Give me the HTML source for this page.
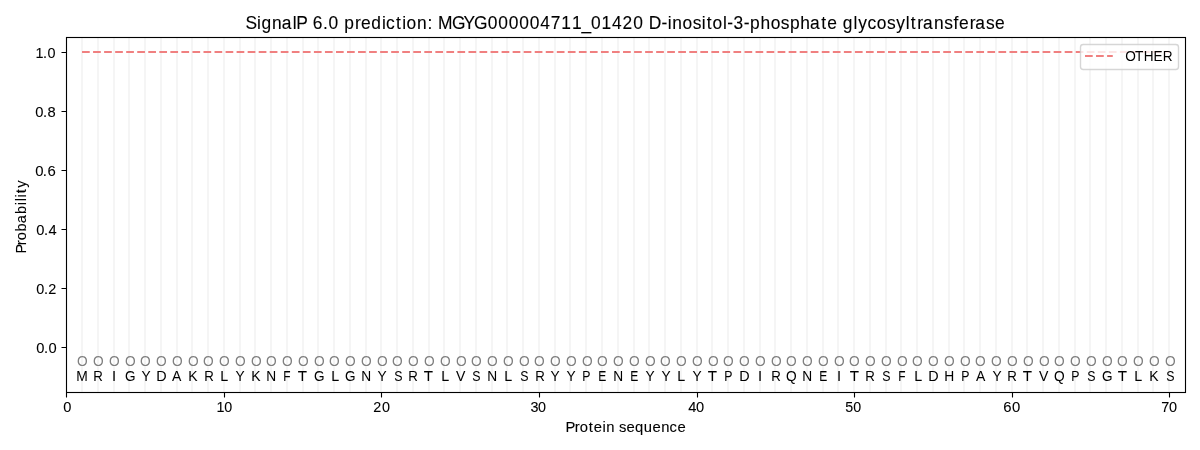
<!DOCTYPE html>
<html><head><meta charset="utf-8"><title>SignalP 6.0 prediction</title>
<style>html,body{margin:0;padding:0;background:#fff;width:1200px;height:450px;overflow:hidden}svg{display:block;will-change:transform}text{font-family:"Liberation Sans",sans-serif}</style></head>
<body><svg width="1200" height="450" viewBox="0 0 1200 450">
<rect width="1200" height="450" fill="#fff"/>
<path d="M82 37.33V391.72M98 37.33V391.72M114 37.33V391.72M129 37.33V391.72M145 37.33V391.72M161 37.33V391.72M177 37.33V391.72M192 37.33V391.72M208 37.33V391.72M224 37.33V391.72M240 37.33V391.72M255 37.33V391.72M271 37.33V391.72M287 37.33V391.72M303 37.33V391.72M318 37.33V391.72M334 37.33V391.72M350 37.33V391.72M366 37.33V391.72M381 37.33V391.72M397 37.33V391.72M413 37.33V391.72M429 37.33V391.72M444 37.33V391.72M460 37.33V391.72M476 37.33V391.72M492 37.33V391.72M507 37.33V391.72M523 37.33V391.72M539 37.33V391.72M555 37.33V391.72M570 37.33V391.72M586 37.33V391.72M602 37.33V391.72M618 37.33V391.72M634 37.33V391.72M649 37.33V391.72M665 37.33V391.72M681 37.33V391.72M697 37.33V391.72M712 37.33V391.72M728 37.33V391.72M744 37.33V391.72M760 37.33V391.72M775 37.33V391.72M791 37.33V391.72M807 37.33V391.72M823 37.33V391.72M838 37.33V391.72M854 37.33V391.72M870 37.33V391.72M886 37.33V391.72M901 37.33V391.72M917 37.33V391.72M933 37.33V391.72M949 37.33V391.72M964 37.33V391.72M980 37.33V391.72M996 37.33V391.72M1012 37.33V391.72M1027 37.33V391.72M1043 37.33V391.72M1059 37.33V391.72M1075 37.33V391.72M1090 37.33V391.72M1106 37.33V391.72M1122 37.33V391.72M1138 37.33V391.72M1153 37.33V391.72M1169 37.33V391.72" stroke="#f5f5f5" stroke-width="2.083" fill="none"/>
<path d="M82.03 52H1169.24" stroke="#f08080" stroke-width="2.083" stroke-dasharray="7.708 3.333" fill="none"/>
<text x="0.21" transform="translate(76.03,381.00) scale(0.9410,1)" font-size="14.72" fill="#000000" stroke="#000000" stroke-width="0.030">M</text>
<text x="0.54" transform="translate(76.60,366.00) scale(0.9329,1)" font-size="14.72" fill="#808080">O</text>
<text x="0.32" transform="translate(92.98,381.00) scale(0.9026,1)" font-size="14.72" fill="#000000" stroke="#000000" stroke-width="0.030">R</text>
<text x="0.80" transform="translate(92.35,366.00) scale(0.9329,1)" font-size="14.72" fill="#808080">O</text>
<text x="0.44" transform="translate(111.55,381.00) scale(0.9981,1)" font-size="14.72" fill="#000000" stroke="#000000" stroke-width="0.030">I</text>
<text x="1.06" transform="translate(108.11,366.00) scale(0.9329,1)" font-size="14.72" fill="#808080">O</text>
<text x="1.22" transform="translate(123.93,381.00) scale(0.9204,1)" font-size="14.72" fill="#000000" stroke="#000000" stroke-width="0.030">G</text>
<text x="1.32" transform="translate(123.87,366.00) scale(0.9329,1)" font-size="14.72" fill="#808080">O</text>
<text x="0.77" transform="translate(140.87,381.00) scale(0.9312,1)" font-size="14.72" fill="#000000" stroke="#000000" stroke-width="0.030">Y</text>
<text x="0.51" transform="translate(139.62,366.00) scale(0.9329,1)" font-size="14.72" fill="#808080">O</text>
<text x="0.77" transform="translate(155.44,381.00) scale(0.9764,1)" font-size="14.72" fill="#000000" stroke="#000000" stroke-width="0.030">D</text>
<text x="0.77" transform="translate(155.38,366.00) scale(0.9329,1)" font-size="14.72" fill="#808080">O</text>
<text x="0.26" transform="translate(171.82,381.00) scale(0.9507,1)" font-size="14.72" fill="#000000" stroke="#000000" stroke-width="0.030">A</text>
<text x="1.03" transform="translate(171.14,366.00) scale(0.9329,1)" font-size="14.72" fill="#808080">O</text>
<text x="0.38" transform="translate(187.83,381.00) scale(0.9518,1)" font-size="14.72" fill="#000000" stroke="#000000" stroke-width="0.030">K</text>
<text x="1.29" transform="translate(186.89,366.00) scale(0.9329,1)" font-size="14.72" fill="#808080">O</text>
<text x="1.10" transform="translate(203.28,381.00) scale(0.9026,1)" font-size="14.72" fill="#000000" stroke="#000000" stroke-width="0.030">R</text>
<text x="0.48" transform="translate(202.65,366.00) scale(0.9329,1)" font-size="14.72" fill="#808080">O</text>
<text x="0.21" transform="translate(219.97,381.00) scale(0.9709,1)" font-size="14.72" fill="#000000" stroke="#000000" stroke-width="0.030">L</text>
<text x="0.74" transform="translate(218.41,366.00) scale(0.9329,1)" font-size="14.72" fill="#808080">O</text>
<text x="0.19" transform="translate(235.41,381.00) scale(0.9312,1)" font-size="14.72" fill="#000000" stroke="#000000" stroke-width="0.030">Y</text>
<text x="1.01" transform="translate(234.16,366.00) scale(0.9329,1)" font-size="14.72" fill="#808080">O</text>
<text x="0.35" transform="translate(250.86,381.00) scale(0.9518,1)" font-size="14.72" fill="#000000" stroke="#000000" stroke-width="0.030">K</text>
<text x="1.27" transform="translate(249.92,366.00) scale(0.9329,1)" font-size="14.72" fill="#808080">O</text>
<text x="0.33" transform="translate(265.93,381.00) scale(0.9322,1)" font-size="14.72" fill="#000000" stroke="#000000" stroke-width="0.030">N</text>
<text x="0.45" transform="translate(265.68,366.00) scale(0.9329,1)" font-size="14.72" fill="#808080">O</text>
<text x="0.62" transform="translate(282.87,381.00) scale(0.8089,1)" font-size="14.72" fill="#000000" stroke="#000000" stroke-width="0.030">F</text>
<text x="0.72" transform="translate(281.43,366.00) scale(0.9329,1)" font-size="14.72" fill="#808080">O</text>
<text x="-0.73" transform="translate(298.38,381.00) scale(1.0293,1)" font-size="14.72" fill="#000000" stroke="#000000" stroke-width="0.030">T</text>
<text x="0.98" transform="translate(297.19,366.00) scale(0.9329,1)" font-size="14.72" fill="#808080">O</text>
<text x="1.13" transform="translate(313.01,381.00) scale(0.9204,1)" font-size="14.72" fill="#000000" stroke="#000000" stroke-width="0.030">G</text>
<text x="1.24" transform="translate(312.95,366.00) scale(0.9329,1)" font-size="14.72" fill="#808080">O</text>
<text x="0.93" transform="translate(330.27,381.00) scale(0.9709,1)" font-size="14.72" fill="#000000" stroke="#000000" stroke-width="0.030">L</text>
<text x="0.43" transform="translate(328.70,366.00) scale(0.9329,1)" font-size="14.72" fill="#808080">O</text>
<text x="0.58" transform="translate(344.52,381.00) scale(0.9204,1)" font-size="14.72" fill="#000000" stroke="#000000" stroke-width="0.030">G</text>
<text x="0.69" transform="translate(344.46,366.00) scale(0.9329,1)" font-size="14.72" fill="#808080">O</text>
<text x="0.82" transform="translate(360.47,381.00) scale(0.9322,1)" font-size="14.72" fill="#000000" stroke="#000000" stroke-width="0.030">N</text>
<text x="0.95" transform="translate(360.22,366.00) scale(0.9329,1)" font-size="14.72" fill="#808080">O</text>
<text x="0.39" transform="translate(377.22,381.00) scale(0.9312,1)" font-size="14.72" fill="#000000" stroke="#000000" stroke-width="0.030">Y</text>
<text x="1.21" transform="translate(375.97,366.00) scale(0.9329,1)" font-size="14.72" fill="#808080">O</text>
<text x="1.81" transform="translate(392.79,381.00) scale(0.8413,1)" font-size="14.72" fill="#000000" stroke="#000000" stroke-width="0.030">S</text>
<text x="0.40" transform="translate(391.73,366.00) scale(0.9329,1)" font-size="14.72" fill="#808080">O</text>
<text x="0.17" transform="translate(408.11,381.00) scale(0.9026,1)" font-size="14.72" fill="#000000" stroke="#000000" stroke-width="0.030">R</text>
<text x="0.66" transform="translate(407.49,366.00) scale(0.9329,1)" font-size="14.72" fill="#808080">O</text>
<text x="-0.78" transform="translate(424.43,381.00) scale(1.0293,1)" font-size="14.72" fill="#000000" stroke="#000000" stroke-width="0.030">T</text>
<text x="0.92" transform="translate(423.24,366.00) scale(0.9329,1)" font-size="14.72" fill="#808080">O</text>
<text x="0.63" transform="translate(440.56,381.00) scale(0.9709,1)" font-size="14.72" fill="#000000" stroke="#000000" stroke-width="0.030">L</text>
<text x="1.18" transform="translate(439.00,366.00) scale(0.9329,1)" font-size="14.72" fill="#808080">O</text>
<text x="0.62" transform="translate(455.44,381.00) scale(0.9577,1)" font-size="14.72" fill="#000000" stroke="#000000" stroke-width="0.030">V</text>
<text x="1.44" transform="translate(454.76,366.00) scale(0.9329,1)" font-size="14.72" fill="#808080">O</text>
<text x="0.87" transform="translate(471.58,381.00) scale(0.8413,1)" font-size="14.72" fill="#000000" stroke="#000000" stroke-width="0.030">S</text>
<text x="0.63" transform="translate(470.51,366.00) scale(0.9329,1)" font-size="14.72" fill="#808080">O</text>
<text x="0.76" transform="translate(486.52,381.00) scale(0.9322,1)" font-size="14.72" fill="#000000" stroke="#000000" stroke-width="0.030">N</text>
<text x="0.89" transform="translate(486.27,366.00) scale(0.9329,1)" font-size="14.72" fill="#808080">O</text>
<text x="0.60" transform="translate(503.59,381.00) scale(0.9709,1)" font-size="14.72" fill="#000000" stroke="#000000" stroke-width="0.030">L</text>
<text x="1.15" transform="translate(502.03,366.00) scale(0.9329,1)" font-size="14.72" fill="#808080">O</text>
<text x="1.74" transform="translate(518.85,381.00) scale(0.8413,1)" font-size="14.72" fill="#000000" stroke="#000000" stroke-width="0.030">S</text>
<text x="1.41" transform="translate(517.78,366.00) scale(0.9329,1)" font-size="14.72" fill="#808080">O</text>
<text x="1.22" transform="translate(534.16,381.00) scale(0.9026,1)" font-size="14.72" fill="#000000" stroke="#000000" stroke-width="0.030">R</text>
<text x="0.60" transform="translate(533.54,366.00) scale(0.9329,1)" font-size="14.72" fill="#808080">O</text>
<text x="0.04" transform="translate(550.55,381.00) scale(0.9312,1)" font-size="14.72" fill="#000000" stroke="#000000" stroke-width="0.030">Y</text>
<text x="0.86" transform="translate(549.30,366.00) scale(0.9329,1)" font-size="14.72" fill="#808080">O</text>
<text x="0.30" transform="translate(566.30,381.00) scale(0.9312,1)" font-size="14.72" fill="#000000" stroke="#000000" stroke-width="0.030">Y</text>
<text x="1.12" transform="translate(565.05,366.00) scale(0.9329,1)" font-size="14.72" fill="#808080">O</text>
<text x="0.35" transform="translate(582.06,381.00) scale(0.8346,1)" font-size="14.72" fill="#000000" stroke="#000000" stroke-width="0.030">P</text>
<text x="1.38" transform="translate(580.81,366.00) scale(0.9329,1)" font-size="14.72" fill="#808080">O</text>
<text x="0.89" transform="translate(597.63,381.00) scale(0.8179,1)" font-size="14.72" fill="#000000" stroke="#000000" stroke-width="0.030">E</text>
<text x="0.57" transform="translate(596.57,366.00) scale(0.9329,1)" font-size="14.72" fill="#808080">O</text>
<text x="0.71" transform="translate(612.57,381.00) scale(0.9322,1)" font-size="14.72" fill="#000000" stroke="#000000" stroke-width="0.030">N</text>
<text x="0.83" transform="translate(612.32,366.00) scale(0.9329,1)" font-size="14.72" fill="#808080">O</text>
<text x="1.49" transform="translate(629.14,381.00) scale(0.8179,1)" font-size="14.72" fill="#000000" stroke="#000000" stroke-width="0.030">E</text>
<text x="1.09" transform="translate(628.08,366.00) scale(0.9329,1)" font-size="14.72" fill="#808080">O</text>
<text x="0.54" transform="translate(645.09,381.00) scale(0.9312,1)" font-size="14.72" fill="#000000" stroke="#000000" stroke-width="0.030">Y</text>
<text x="1.36" transform="translate(643.84,366.00) scale(0.9329,1)" font-size="14.72" fill="#808080">O</text>
<text x="0.80" transform="translate(660.84,381.00) scale(0.9312,1)" font-size="14.72" fill="#000000" stroke="#000000" stroke-width="0.030">Y</text>
<text x="0.54" transform="translate(659.59,366.00) scale(0.9329,1)" font-size="14.72" fill="#808080">O</text>
<text x="0.27" transform="translate(676.91,381.00) scale(0.9709,1)" font-size="14.72" fill="#000000" stroke="#000000" stroke-width="0.030">L</text>
<text x="0.81" transform="translate(675.35,366.00) scale(0.9329,1)" font-size="14.72" fill="#808080">O</text>
<text x="0.25" transform="translate(692.36,381.00) scale(0.9312,1)" font-size="14.72" fill="#000000" stroke="#000000" stroke-width="0.030">Y</text>
<text x="1.07" transform="translate(691.11,366.00) scale(0.9329,1)" font-size="14.72" fill="#808080">O</text>
<text x="-0.41" transform="translate(708.05,381.00) scale(1.0293,1)" font-size="14.72" fill="#000000" stroke="#000000" stroke-width="0.030">T</text>
<text x="1.33" transform="translate(706.86,366.00) scale(0.9329,1)" font-size="14.72" fill="#808080">O</text>
<text x="0.57" transform="translate(723.87,381.00) scale(0.8346,1)" font-size="14.72" fill="#000000" stroke="#000000" stroke-width="0.030">P</text>
<text x="0.52" transform="translate(722.62,366.00) scale(0.9329,1)" font-size="14.72" fill="#808080">O</text>
<text x="0.77" transform="translate(738.44,381.00) scale(0.9764,1)" font-size="14.72" fill="#000000" stroke="#000000" stroke-width="0.030">D</text>
<text x="0.78" transform="translate(738.38,366.00) scale(0.9329,1)" font-size="14.72" fill="#808080">O</text>
<text x="0.42" transform="translate(757.57,381.00) scale(0.9981,1)" font-size="14.72" fill="#000000" stroke="#000000" stroke-width="0.030">I</text>
<text x="1.04" transform="translate(754.13,366.00) scale(0.9329,1)" font-size="14.72" fill="#808080">O</text>
<text x="0.83" transform="translate(770.51,381.00) scale(0.9026,1)" font-size="14.72" fill="#000000" stroke="#000000" stroke-width="0.030">R</text>
<text x="1.30" transform="translate(769.89,366.00) scale(0.9329,1)" font-size="14.72" fill="#808080">O</text>
<text x="0.49" transform="translate(785.65,381.00) scale(0.9329,1)" font-size="14.72" fill="#000000" stroke="#000000" stroke-width="0.030">Q</text>
<text x="0.49" transform="translate(785.65,366.00) scale(0.9329,1)" font-size="14.72" fill="#808080">O</text>
<text x="0.62" transform="translate(801.65,381.00) scale(0.9322,1)" font-size="14.72" fill="#000000" stroke="#000000" stroke-width="0.030">N</text>
<text x="0.75" transform="translate(801.40,366.00) scale(0.9329,1)" font-size="14.72" fill="#808080">O</text>
<text x="1.39" transform="translate(818.22,381.00) scale(0.8179,1)" font-size="14.72" fill="#000000" stroke="#000000" stroke-width="0.030">E</text>
<text x="1.01" transform="translate(817.16,366.00) scale(0.9329,1)" font-size="14.72" fill="#808080">O</text>
<text x="0.64" transform="translate(836.35,381.00) scale(0.9981,1)" font-size="14.72" fill="#000000" stroke="#000000" stroke-width="0.030">I</text>
<text x="1.27" transform="translate(832.92,366.00) scale(0.9329,1)" font-size="14.72" fill="#808080">O</text>
<text x="-0.23" transform="translate(849.86,381.00) scale(1.0293,1)" font-size="14.72" fill="#000000" stroke="#000000" stroke-width="0.030">T</text>
<text x="0.46" transform="translate(848.67,366.00) scale(0.9329,1)" font-size="14.72" fill="#808080">O</text>
<text x="0.23" transform="translate(865.05,381.00) scale(0.9026,1)" font-size="14.72" fill="#000000" stroke="#000000" stroke-width="0.030">R</text>
<text x="0.72" transform="translate(864.43,366.00) scale(0.9329,1)" font-size="14.72" fill="#808080">O</text>
<text x="1.26" transform="translate(881.25,381.00) scale(0.8413,1)" font-size="14.72" fill="#000000" stroke="#000000" stroke-width="0.030">S</text>
<text x="0.98" transform="translate(880.19,366.00) scale(0.9329,1)" font-size="14.72" fill="#808080">O</text>
<text x="1.23" transform="translate(897.38,381.00) scale(0.8089,1)" font-size="14.72" fill="#000000" stroke="#000000" stroke-width="0.030">F</text>
<text x="1.24" transform="translate(895.94,366.00) scale(0.9329,1)" font-size="14.72" fill="#808080">O</text>
<text x="0.94" transform="translate(913.26,381.00) scale(0.9709,1)" font-size="14.72" fill="#000000" stroke="#000000" stroke-width="0.030">L</text>
<text x="0.43" transform="translate(911.70,366.00) scale(0.9329,1)" font-size="14.72" fill="#808080">O</text>
<text x="0.69" transform="translate(927.52,381.00) scale(0.9764,1)" font-size="14.72" fill="#000000" stroke="#000000" stroke-width="0.030">D</text>
<text x="0.69" transform="translate(927.46,366.00) scale(0.9329,1)" font-size="14.72" fill="#808080">O</text>
<text x="0.81" transform="translate(943.46,381.00) scale(0.9388,1)" font-size="14.72" fill="#000000" stroke="#000000" stroke-width="0.030">H</text>
<text x="0.95" transform="translate(943.21,366.00) scale(0.9329,1)" font-size="14.72" fill="#808080">O</text>
<text x="1.35" transform="translate(960.22,381.00) scale(0.8346,1)" font-size="14.72" fill="#000000" stroke="#000000" stroke-width="0.030">P</text>
<text x="1.21" transform="translate(958.97,366.00) scale(0.9329,1)" font-size="14.72" fill="#808080">O</text>
<text x="0.70" transform="translate(975.41,381.00) scale(0.9507,1)" font-size="14.72" fill="#000000" stroke="#000000" stroke-width="0.030">A</text>
<text x="0.40" transform="translate(974.73,366.00) scale(0.9329,1)" font-size="14.72" fill="#808080">O</text>
<text x="0.92" transform="translate(991.73,381.00) scale(0.9312,1)" font-size="14.72" fill="#000000" stroke="#000000" stroke-width="0.030">Y</text>
<text x="0.66" transform="translate(990.48,366.00) scale(0.9329,1)" font-size="14.72" fill="#808080">O</text>
<text x="0.44" transform="translate(1006.86,381.00) scale(0.9026,1)" font-size="14.72" fill="#000000" stroke="#000000" stroke-width="0.030">R</text>
<text x="0.92" transform="translate(1006.24,366.00) scale(0.9329,1)" font-size="14.72" fill="#808080">O</text>
<text x="-0.54" transform="translate(1023.18,381.00) scale(1.0293,1)" font-size="14.72" fill="#000000" stroke="#000000" stroke-width="0.030">T</text>
<text x="1.18" transform="translate(1022.00,366.00) scale(0.9329,1)" font-size="14.72" fill="#808080">O</text>
<text x="0.63" transform="translate(1038.44,381.00) scale(0.9577,1)" font-size="14.72" fill="#000000" stroke="#000000" stroke-width="0.030">V</text>
<text x="1.45" transform="translate(1037.75,366.00) scale(0.9329,1)" font-size="14.72" fill="#808080">O</text>
<text x="0.63" transform="translate(1053.51,381.00) scale(0.9329,1)" font-size="14.72" fill="#000000" stroke="#000000" stroke-width="0.030">Q</text>
<text x="0.63" transform="translate(1053.51,366.00) scale(0.9329,1)" font-size="14.72" fill="#808080">O</text>
<text x="1.00" transform="translate(1070.52,381.00) scale(0.8346,1)" font-size="14.72" fill="#000000" stroke="#000000" stroke-width="0.030">P</text>
<text x="0.90" transform="translate(1069.27,366.00) scale(0.9329,1)" font-size="14.72" fill="#808080">O</text>
<text x="1.46" transform="translate(1086.09,381.00) scale(0.8413,1)" font-size="14.72" fill="#000000" stroke="#000000" stroke-width="0.030">S</text>
<text x="1.16" transform="translate(1085.02,366.00) scale(0.9329,1)" font-size="14.72" fill="#808080">O</text>
<text x="1.32" transform="translate(1100.84,381.00) scale(0.9204,1)" font-size="14.72" fill="#000000" stroke="#000000" stroke-width="0.030">G</text>
<text x="1.42" transform="translate(1100.78,366.00) scale(0.9329,1)" font-size="14.72" fill="#808080">O</text>
<text x="-0.09" transform="translate(1117.72,381.00) scale(1.0293,1)" font-size="14.72" fill="#000000" stroke="#000000" stroke-width="0.030">T</text>
<text x="0.61" transform="translate(1116.54,366.00) scale(0.9329,1)" font-size="14.72" fill="#808080">O</text>
<text x="0.32" transform="translate(1133.86,381.00) scale(0.9709,1)" font-size="14.72" fill="#000000" stroke="#000000" stroke-width="0.030">L</text>
<text x="0.87" transform="translate(1132.29,366.00) scale(0.9329,1)" font-size="14.72" fill="#808080">O</text>
<text x="0.22" transform="translate(1148.99,381.00) scale(0.9518,1)" font-size="14.72" fill="#000000" stroke="#000000" stroke-width="0.030">K</text>
<text x="1.13" transform="translate(1148.05,366.00) scale(0.9329,1)" font-size="14.72" fill="#808080">O</text>
<text x="1.72" transform="translate(1164.87,381.00) scale(0.8413,1)" font-size="14.72" fill="#000000" stroke="#000000" stroke-width="0.030">S</text>
<text x="1.39" transform="translate(1163.81,366.00) scale(0.9329,1)" font-size="14.72" fill="#808080">O</text>
<rect x="66.5" y="37.5" width="1119" height="355" fill="none" stroke="#000" stroke-width="1.111"/>
<path d="M66.5 392.5v5M224.5 392.5v5M381.5 392.5v5M539.5 392.5v5M697.5 392.5v5M854.5 392.5v5M1012.5 392.5v5M1169.5 392.5v5M66.5 347.5h-5M66.5 288.5h-5M66.5 229.5h-5M66.5 170.5h-5M66.5 111.5h-5M66.5 52.5h-5" stroke="#000" stroke-width="1.111" fill="none"/>
<text x="1.38" transform="translate(61.90,412.00) scale(0.9948,1)" font-size="14.72" fill="#000000" stroke="#000000" stroke-width="0.080">0</text>
<text x="1.42 9.45" transform="translate(215.03,412.00) scale(0.9736,1)" font-size="14.72" fill="#000000" stroke="#000000" stroke-width="0.080">10</text>
<text x="0.54 9.65" transform="translate(372.66,412.00) scale(0.9773,1)" font-size="14.72" fill="#000000" stroke="#000000" stroke-width="0.080">20</text>
<text x="0.20 8.08" transform="translate(530.23,412.00) scale(0.9752,1)" font-size="14.72" fill="#000000" stroke="#000000" stroke-width="0.080">30</text>
<text x="0.54 8.27" transform="translate(687.79,412.00) scale(0.9949,1)" font-size="14.72" fill="#000000" stroke="#000000" stroke-width="0.080">40</text>
<text x="0.01 8.04" transform="translate(845.36,412.00) scale(0.9670,1)" font-size="14.72" fill="#000000" stroke="#000000" stroke-width="0.080">50</text>
<text x="0.41 9.10" transform="translate(1002.86,412.00) scale(1.0119,1)" font-size="14.72" fill="#000000" stroke="#000000" stroke-width="0.080">60</text>
<text x="0.86 8.71" transform="translate(1160.49,412.00) scale(0.9843,1)" font-size="14.72" fill="#000000" stroke="#000000" stroke-width="0.080">70</text>
<text x="-0.29 8.98 13.88 22.87 27.88 36.42 40.32 46.67 53.02 60.32 68.80 77.62 86.30 94.88 103.20 111.03" transform="translate(565.76,432.00) scale(1.0057,1)" font-size="14.72" fill="#000000" stroke="#000000" stroke-width="0.100">Protein sequence</text>
<text x="1.59 9.24 13.75" transform="translate(34.68,353.00) scale(0.9972,1)" font-size="14.72" fill="#000000" stroke="#000000" stroke-width="0.080">0.0</text>
<text x="1.68 9.43 13.87" transform="translate(34.68,294.00) scale(0.9814,1)" font-size="14.72" fill="#000000" stroke="#000000" stroke-width="0.080">0.2</text>
<text x="1.59 9.24 13.80" transform="translate(34.68,235.00) scale(0.9972,1)" font-size="14.72" fill="#000000" stroke="#000000" stroke-width="0.080">0.4</text>
<text x="0.64 8.21 12.68" transform="translate(34.56,176.00) scale(1.0128,1)" font-size="14.72" fill="#000000" stroke="#000000" stroke-width="0.080">0.6</text>
<text x="0.69 8.32 12.91" transform="translate(34.56,117.00) scale(1.0021,1)" font-size="14.72" fill="#000000" stroke="#000000" stroke-width="0.080">0.8</text>
<text x="0.86 8.70 13.33" transform="translate(34.56,58.00) scale(0.9781,1)" font-size="14.72" fill="#000000" stroke="#000000" stroke-width="0.080">1.0</text>
<text x="-0.47 7.88 12.86 21.69 29.91 39.30 48.10 51.99 55.90 60.18 65.52" transform="translate(26.00,252.95) rotate(-90) scale(0.9935,1)" font-size="14.72" fill="#000000" stroke="#000000" stroke-width="0.100">Probability</text>
<text x="-0.63 10.92 15.47 26.31 36.11 47.24 50.99 59.25 67.51 77.99 83.58 91.62 99.66 110.63 116.68 127.11 137.93 142.16 152.29 158.51 162.96 173.51 184.18 189.49 194.81 209.10 220.92 231.58 245.52 256.19 266.86 277.53 288.19 298.78 309.48 320.17 330.97 340.71 350.30 360.94 371.69 382.27 393.23 401.09 408.95 421.90 428.28 433.00 443.40 453.62 462.83 467.92 473.89 484.41 488.71 495.14 505.47 511.94 522.52 532.95 543.16 552.46 563.03 572.86 584.38 590.44 598.32 606.20 617.01 621.91 631.28 640.78 650.99 660.39 670.23 675.33 681.93 687.68 698.83 709.16 718.66 724.18 735.15 740.89 751.71 760.76" transform="translate(246.20,29.00) scale(0.9842,1)" font-size="17.66" fill="#000000" stroke="#000000" stroke-width="0.100">SignalP 6.0 prediction: MGYG000004711_01420 D-inositol-3-phosphate glycosyltransferase</text>
<rect x="1080.5" y="44.5" width="98" height="25" rx="2.78" fill="#fff" fill-opacity="0.8" stroke="#cccccc" stroke-opacity="0.8" stroke-width="1.389"/>
<path d="M1085 56H1112.78" stroke="#f08080" stroke-width="2.083" stroke-dasharray="7.708 3.333" fill="none"/>
<text x="0.83 11.45 20.86 31.53 41.35" transform="translate(1124.38,61.00) scale(0.9253,1)" font-size="14.72" fill="#000000">OTHER</text>
</svg></body></html>
